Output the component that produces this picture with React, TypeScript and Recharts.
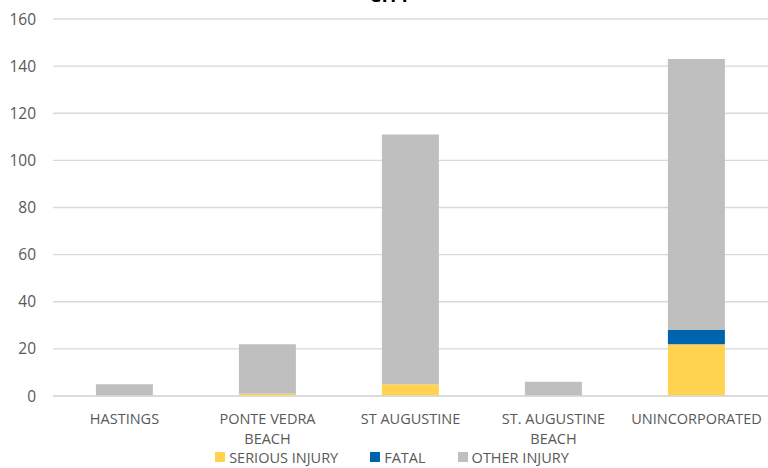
import React from "react";
import { BarChart, Bar, XAxis, YAxis, CartesianGrid, Legend } from "recharts";

const cities = [
  "HASTINGS",
  "PONTE VEDRA BEACH",
  "ST AUGUSTINE",
  "ST. AUGUSTINE BEACH",
  "UNINCORPORATED",
];
const seriousInjury = [0, 1, 5, 0, 22];
const fatal = [0, 0, 0, 0, 6];
const otherInjury = [5, 21, 106, 6, 115];
const yTicks = [0, 20, 40, 60, 80, 100, 120, 140, 160];

const data = cities.map((city, i) => ({
  city,
  serious: seriousInjury[i],
  fatal: fatal[i],
  other: otherInjury[i],
}));

const FONT = "'Open Sans', sans-serif";
const TEXT = "#595959";

const CityTick = (props: any) => {
  const { x, y, payload } = props;
  const words: string[] = payload.value.split(" ");
  // the two "BEACH" labels wrap onto a second line
  let lines: string[] = [payload.value];
  if (words[words.length - 1] === "BEACH") {
    lines = [words.slice(0, -1).join(" "), "BEACH"];
  }
  return (
    <text
      x={x}
      y={y}
      textAnchor="middle"
      fill={TEXT}
      fontSize={14.5}
      fontFamily={FONT}
    >
      {lines.map((l, i) => (
        <tspan key={i} x={x} dy={20}>
          {l}
        </tspan>
      ))}
    </text>
  );
};

const legendItems = [
  { label: "SERIOUS INJURY", color: "#FFD34F" },
  { label: "FATAL", color: "#0063AE" },
  { label: "OTHER INJURY", color: "#BFBFBF" },
];

const LegendContent = () => (
  <div
    style={{
      display: "flex",
      justifyContent: "center",
      gap: 32,
      fontFamily: FONT,
      fontSize: 14.5,
      color: TEXT,
      height: 22,
      paddingTop: 8,
      alignItems: "center",
      paddingLeft: 16,
    }}
  >
    {legendItems.map((it) => (
      <span key={it.label} style={{ display: "flex", alignItems: "center" }}>
        <span
          style={{
            width: 10,
            height: 10,
            background: it.color,
            marginRight: 4,
            display: "inline-block",
          }}
        />
        {it.label}
      </span>
    ))}
  </div>
);

export default function App() {
  return (
    <div
      style={{
        position: "absolute",
        left: 0,
        top: 0,
        width: 768,
        height: 468,
        background: "#fff",
        overflow: "hidden",
      }}
    >
      <div
        style={{
          position: "absolute",
          top: -18,
          left: 0,
          width: 780,
          textAlign: "center",
          fontFamily: FONT,
          fontWeight: "bold",
          fontSize: 19,
          color: "#000",
        }}
      >
        CITY
      </div>
      <BarChart
        width={768}
        height={468}
        data={data}
        margin={{ top: 19, right: 0, left: 0, bottom: 0 }}
        barCategoryGap="30%"
      >
        <CartesianGrid vertical={false} stroke="#d9d9d9" strokeWidth={1.3} />
        <XAxis
          dataKey="city"
          interval={0}
          tick={<CityTick />}
          tickLine={false}
          axisLine={{ stroke: "#d9d9d9", strokeWidth: 1.3 }}
          height={42}
        />
        <YAxis
          domain={[0, 160]}
          ticks={yTicks}
          width={53}
          axisLine={false}
          tickLine={false}
          tickMargin={11}
          tick={{ fill: TEXT, fontSize: 15.5, fontFamily: FONT }}
        />
        <Legend verticalAlign="bottom" content={<LegendContent />} />
        <Bar
          dataKey="serious"
          stackId="a"
          fill="#FFD34F"
          isAnimationActive={false}
        />
        <Bar dataKey="fatal" stackId="a" fill="#0063AE" isAnimationActive={false} />
        <Bar
          dataKey="other"
          stackId="a"
          fill="#BFBFBF"
          isAnimationActive={false}
        />
      </BarChart>
    </div>
  );
}
